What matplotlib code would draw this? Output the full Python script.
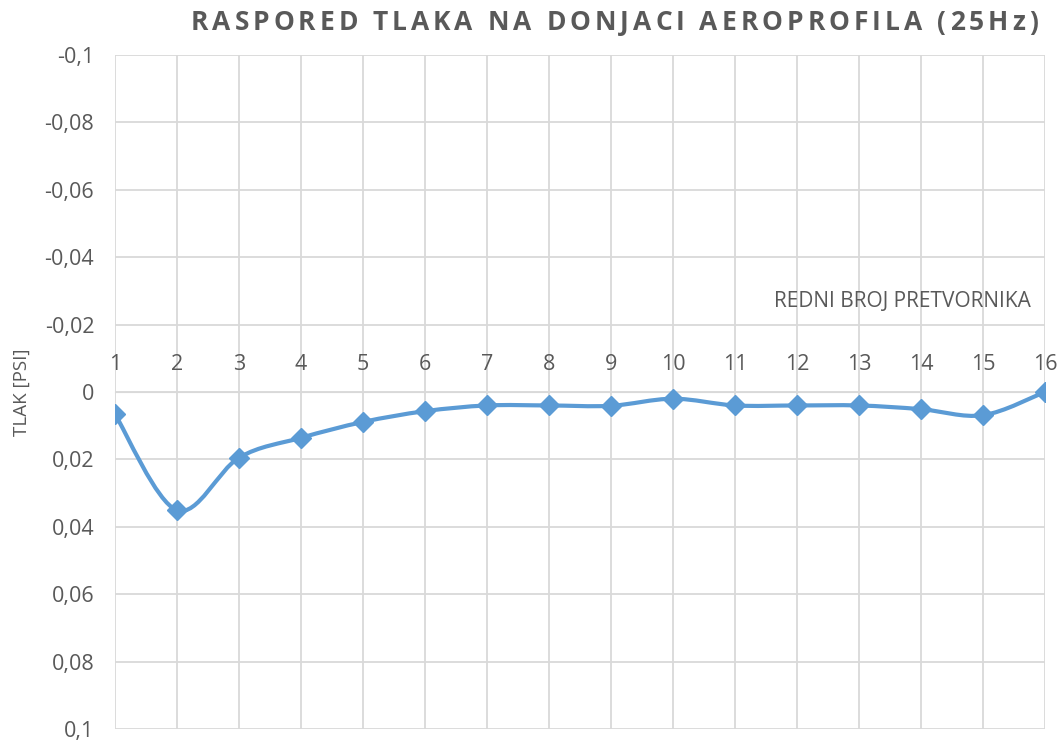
import matplotlib.pyplot as plt
import numpy as np
from matplotlib.path import Path
from matplotlib.patches import PathPatch
from matplotlib.ticker import FuncFormatter

plt.rcParams['font.family'] = ['Open Sans', 'DejaVu Sans']

# redni broj pretvornika i izmjereni tlak
pretvornici = list(range(1, 17))
tlak = [0.0066, 0.0351, 0.0195, 0.0136, 0.0089, 0.0057, 0.0040, 0.0040,
        0.0041, 0.0020, 0.0040, 0.0040, 0.0040, 0.0051, 0.0069, 0.0]
y_ticks = [-0.1, -0.08, -0.06, -0.04, -0.02, 0, 0.02, 0.04, 0.06, 0.08, 0.1]
naslov = 'RASPORED TLAKA NA DONJACI AEROPROFILA (25Hz)'

BLUE = '#5b9bd5'
GREY = '#595959'
GRID = '#d9d9d9'


def smooth_path(x, y, t=1 / 6):
    # Bezier krivulja kroz tocke (kao "smoothed line" u Excelu)
    x = np.asarray(x, float)
    y = np.asarray(y, float)
    verts = [(x[0], y[0])]
    codes = [Path.MOVETO]
    n = len(x)
    for i in range(n - 1):
        i0 = max(i - 1, 0)
        i3 = min(i + 2, n - 1)
        c1 = (x[i] + (x[i + 1] - x[i0]) * t, y[i] + (y[i + 1] - y[i0]) * t)
        c2 = (x[i + 1] - (x[i3] - x[i]) * t, y[i + 1] - (y[i3] - y[i]) * t)
        verts += [c1, c2, (x[i + 1], y[i + 1])]
        codes += [Path.CURVE4] * 3
    return Path(verts, codes)


def spaced_text(fig, s, x_right, y, spacing, **kw):
    # naslov s razmakom izmedju slova, poravnat desno
    r = fig.canvas.get_renderer()
    W = fig.bbox.width
    texts, widths = [], []
    for ch in s:
        t = fig.text(0, y, ch, ha='left', va='center', **kw)
        w = t.get_window_extent(r).width if ch != ' ' else None
        texts.append(t)
        widths.append(w)
    sp = fig.text(0, 0, 'a a', **kw)
    a = fig.text(0, 0, 'aa', **kw)
    space_w = sp.get_window_extent(r).width - a.get_window_extent(r).width
    sp.remove()
    a.remove()
    widths = [space_w if w is None else w for w in widths]
    total = sum(widths) + spacing * (len(s) - 1)
    x = x_right * W - total
    for t, w in zip(texts, widths):
        t.set_x(x / W)
        x += w + spacing


fig = plt.figure(figsize=(10.6, 7.4), dpi=100)
ax = fig.add_axes([0.1085, 0.0149, 0.8773, 0.9108])

ax.add_patch(PathPatch(smooth_path(pretvornici, tlak), facecolor='none',
                       edgecolor=BLUE, lw=3.0, capstyle='round', zorder=3))
ax.plot(pretvornici, tlak, ls='none', marker='D', ms=10.5, color=BLUE, zorder=4)

ax.set_xlim(1, 16)
ax.set_ylim(0.1, -0.1)
ax.set_yticks(y_ticks)
ax.yaxis.set_major_formatter(FuncFormatter(
    lambda v, p: ('%g' % round(v, 2)).replace('.', ',')))
ax.set_xticks(pretvornici)

for s in ['left', 'right', 'bottom']:
    ax.spines[s].set_visible(False)
ax.spines['top'].set_position(('data', 0))
ax.spines['top'].set_color(GRID)
ax.xaxis.tick_top()
ax.grid(True, color=GRID, lw=1.3)
ax.set_axisbelow(True)
ax.tick_params(axis='both', length=0, colors=GREY, labelsize=15.5)
ax.tick_params(axis='x', pad=12)
ax.tick_params(axis='y', pad=15)

ax.text(0.985, 0.634, 'REDNI BROJ PRETVORNIKA', transform=ax.transAxes,
        ha='right', va='center', fontsize=15, color=GREY)
fig.text(0.021, 0.47, 'TLAK [PSI]', rotation=90, ha='center', va='center',
         fontsize=13.5, color=GREY)
spaced_text(fig, naslov, 0.979, 0.97, 4.0, fontsize=19, fontweight='bold',
            color=GREY)

fig.savefig('out.png', dpi=100)
